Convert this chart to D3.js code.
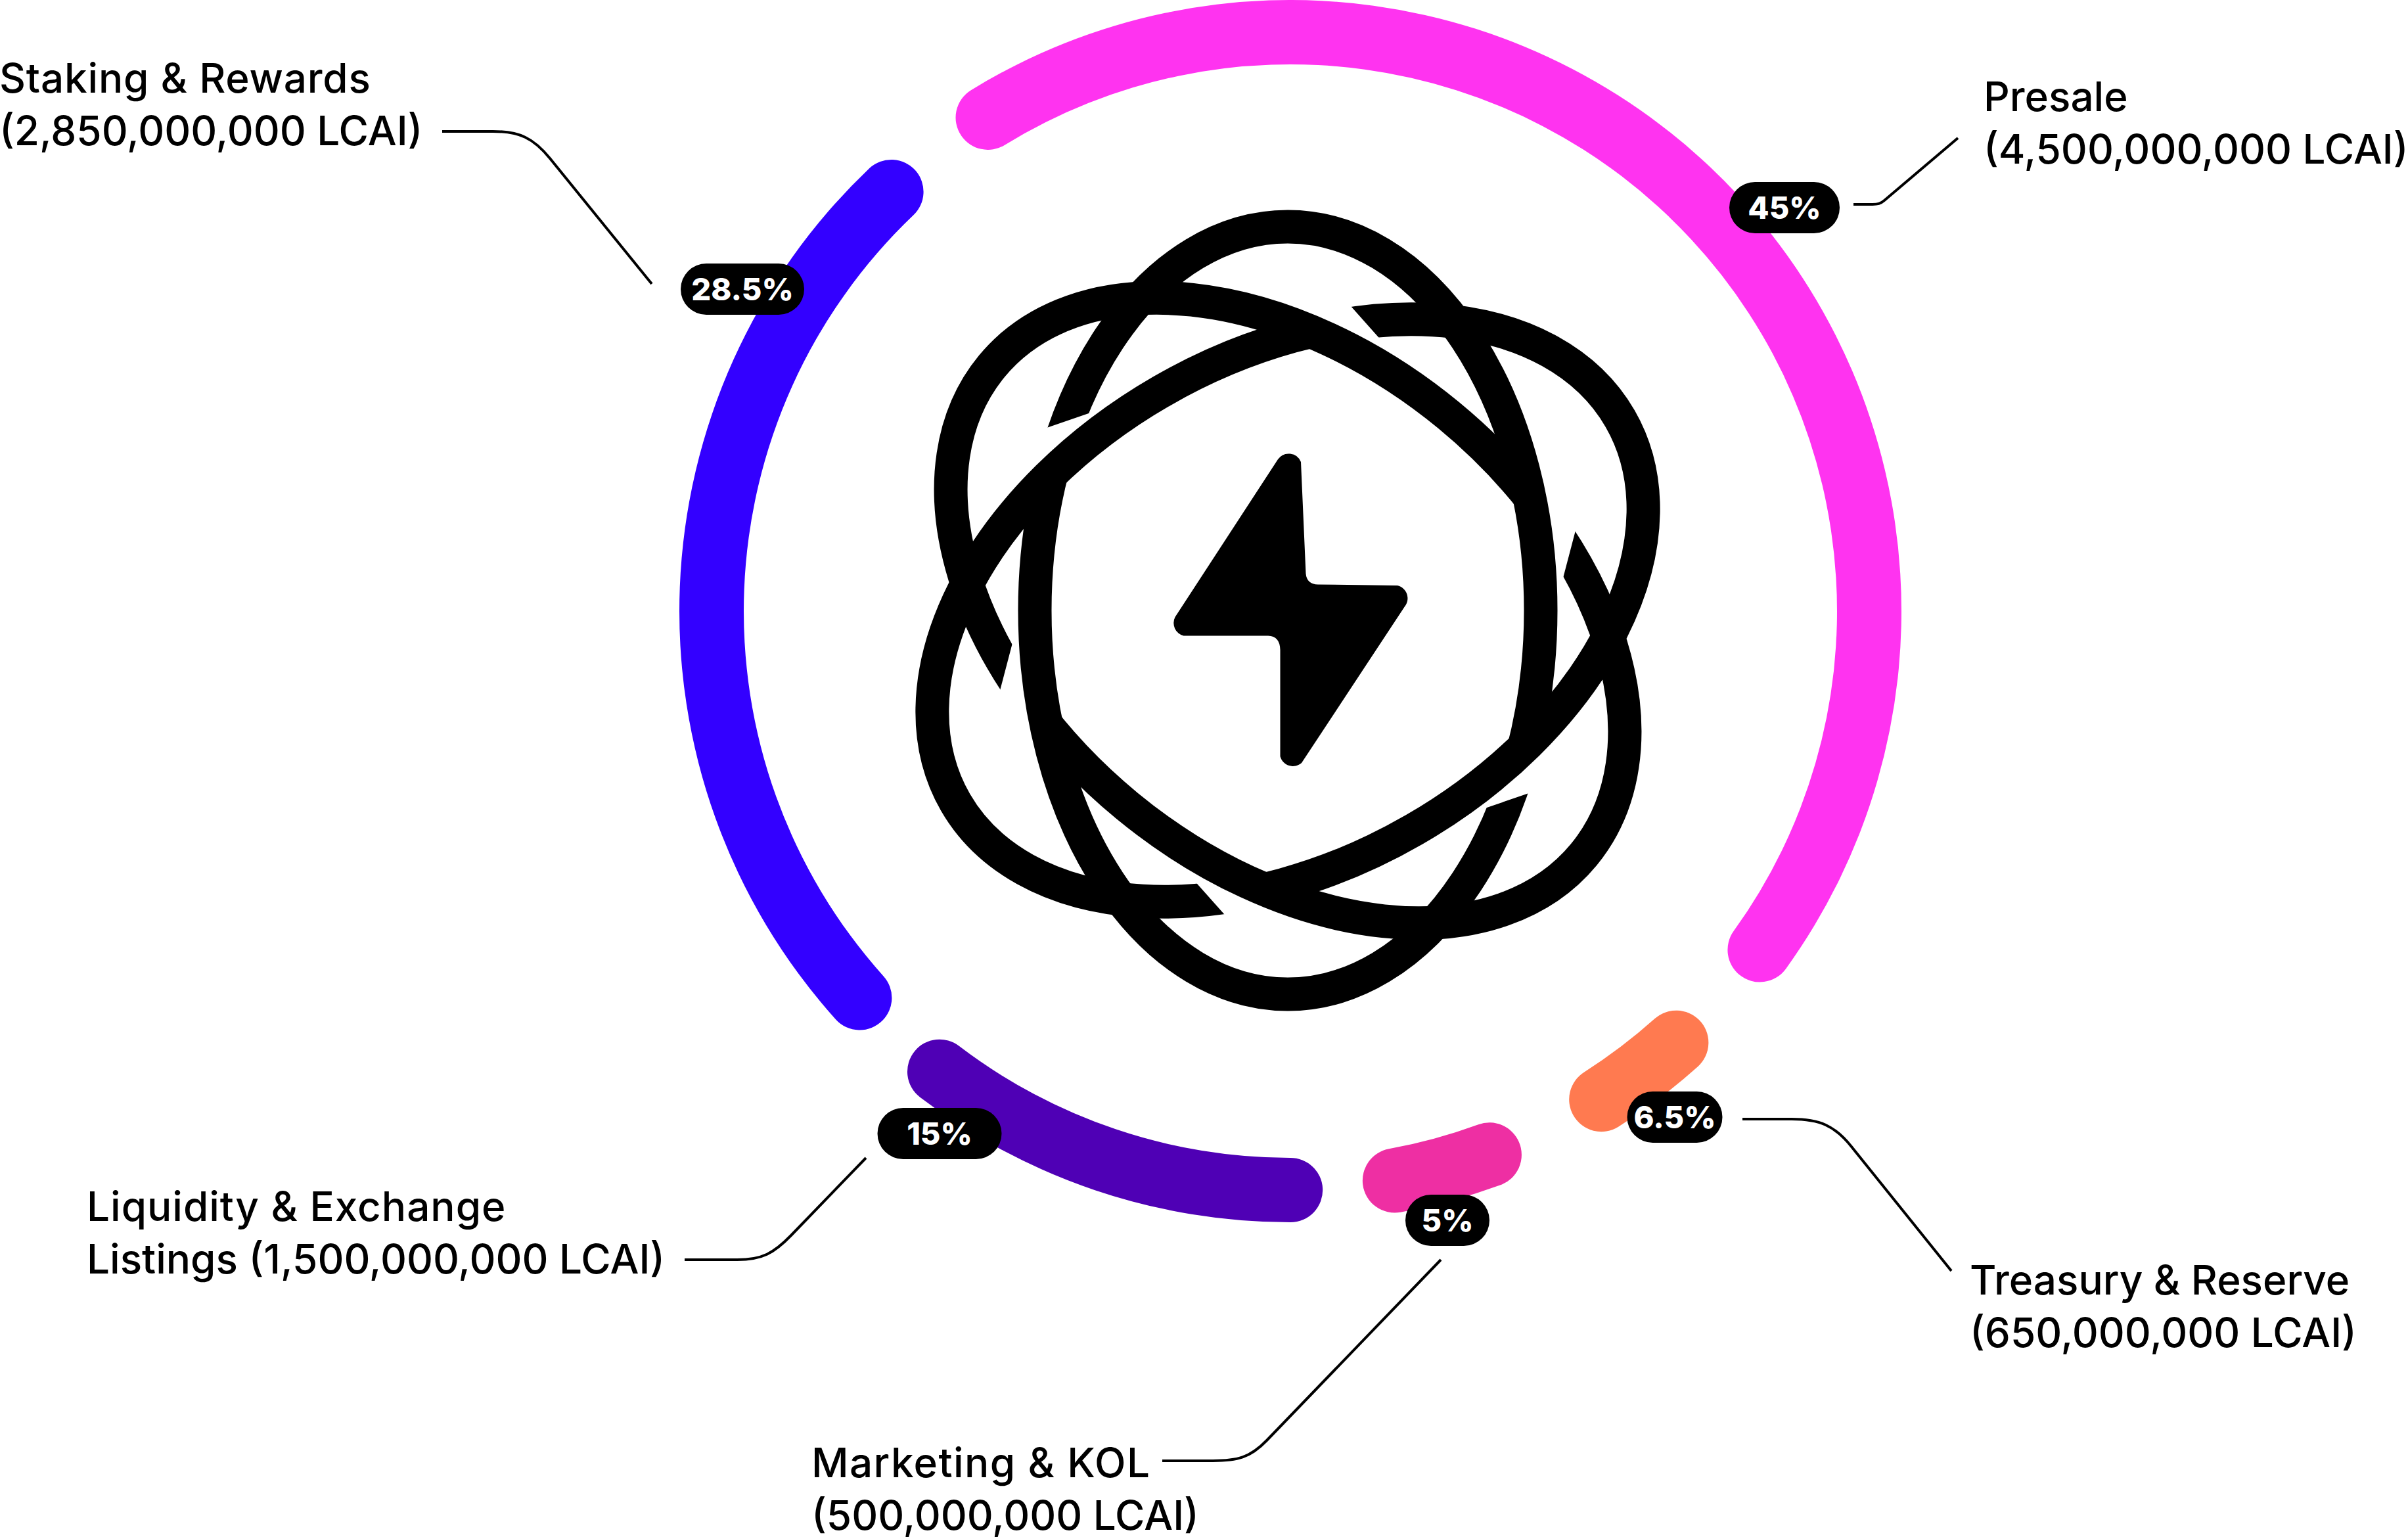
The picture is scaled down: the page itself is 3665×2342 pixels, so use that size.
<!DOCTYPE html>
<html><head><meta charset="utf-8">
<style>html,body{margin:0;padding:0;background:#fff}svg{display:block}</style>
<script src="https://cdn.jsdelivr.net/npm/d3@7"></script>
</head><body><svg id="c" width="3665" height="2342" viewBox="0 0 3665 2342"></svg>
<script>
// ---- chart values ----
const categories = ["Presale","Treasury & Reserve","Marketing & KOL","Liquidity & Exchange Listings","Staking & Rewards"];
const amounts = [4500000000,650000000,500000000,1500000000,2850000000];
const percentLabels = ["45%","6.5%","5%","15%","28.5%"];
// degrees of the ring given to each slice (drawn band + the gap after it)
const slotDegrees = [169.7,21.7,20.1,48.1,100.4];
// degrees left blank at the end of each slot
const gapDegrees = [6.0,6.0,4.0,4.4,5.7];
const colors = ["#FF33F0","#FF7A50","#EE2FA3","#4F00B5","#3300FF"];
const firstLines = ["Presale","Treasury & Reserve","Marketing & KOL","Liquidity & Exchange","Staking & Rewards"];
const secondPrefix = ["","","","Listings ",""];

// ---- layout ----
const ring={cx:1964,cy:930,r0:832,r1:930};
const labelPos=[{x:3019,y:169},{x:2998,y:1970},{x:1235,y:2248},{x:132,y:1858},{x:-1,y:141}];
const firstTracking=[0,0,1.4,1,0.8];
const pillPos=[{x:2716,y:316,w:168},{x:2549,y:1700,w:145},{x:2203,y:1857,w:128},{x:1430,y:1725,w:189},{x:1130,y:440,w:188}];
const leaders=[
 [[2821,311],[2850,311],[2868,305],[2980,210]],
 [[2652,1703],[2727,1703],[2818,1745],[2970,1934]],
 [[1769,2223],[1846,2223],[1928,2192],[2193,1917]],
 [[1042,1917],[1122,1917],[1204,1880],[1318,1762]],
 [[673,200],[750,200],[837,241],[992,432]]
];
const font="Inter, 'Noto Sans', sans-serif";
const svg=d3.select("#c");
const rad=d3.scaleLinear().domain([0,360]).range([0,2*Math.PI]);

// ring
const startDeg=-34.7;
const pie=d3.pie().sort(null).value(d=>d.slot).startAngle(rad(startDeg)).endAngle(rad(startDeg+360));
const rows=categories.map((c,i)=>({c,slot:slotDegrees[i],gap:gapDegrees[i],color:colors[i]}));
const arc=d3.arc().innerRadius(ring.r0).outerRadius(ring.r1).cornerRadius((ring.r1-ring.r0)/2);
svg.append("g").attr("transform",`translate(${ring.cx},${ring.cy})`)
  .selectAll("path").data(pie(rows)).join("path")
  .attr("d",d=>arc({startAngle:d.startAngle,endAngle:d.endAngle-rad(d.data.gap)}))
  .attr("fill",d=>d.data.color);

// logo: three crossing ellipses, each one cut where it passes under the next
const logo={cx:1960,cy:929,rx:385,ry:584,sw:51};
const orbits=[
 {rot:0,   wedge:[[-430,-256],[-364,-279],[-303,-300],[-240,-322],[-240,-230],[-430,-210]]},
 {rot:60,  wedge:[[70.4,-491.8],[154.6,-397.2],[124,-384],[32,-429.6],[1.5,-458.6]]},
 {rot:-50.5,wedge:[[454.6,-185],[411,-19],[384,-31.5],[365,-225]]}
];
const defs=svg.append("defs");
const lg=svg.append("g").attr("transform",`translate(${logo.cx},${logo.cy})`);
orbits.forEach((o,i)=>{
  const id="cut"+i, d=d3.line()(o.wedge)+"Z";
  const m=defs.append("mask").attr("id",id).attr("maskUnits","userSpaceOnUse")
    .attr("x",-800).attr("y",-800).attr("width",1600).attr("height",1600);
  m.append("rect").attr("x",-800).attr("y",-800).attr("width",1600).attr("height",1600).attr("fill","#fff");
  m.append("path").attr("d",d).attr("fill","#000");
  m.append("path").attr("d",d).attr("fill","#000").attr("transform","rotate(180)");
  lg.append("g").attr("mask",`url(#${id})`)
    .append("ellipse").attr("transform",`rotate(${o.rot})`).attr("rx",logo.rx).attr("ry",logo.ry)
    .attr("fill","none").attr("stroke","#000").attr("stroke-width",logo.sw);
});
svg.append("path").attr("fill","#000").attr("d",
 "M1945,699 A20,20 0 0 1 1980,703 L1987.5,873 Q1989,889 2006,889.5 L2127,891 A20,20 0 0 1 2138,923 L1981,1161 A20,20 0 0 1 1948.5,1151 L1948.5,989 Q1948,968 1930,967.5 L1801.5,967.5 A20,20 0 0 1 1788.5,939 Z");

// leaders
svg.append("g").selectAll("path").data(leaders).join("path").attr("fill","none").attr("stroke","#000").attr("stroke-width",4)
 .attr("d",p=>{
   const [a,b,c,e]=p, q=d3.path();
   const L=0.42*Math.hypot(c[0]-b[0],c[1]-b[1]), n=Math.hypot(e[0]-c[0],e[1]-c[1]);
   q.moveTo(...a);q.lineTo(...b);
   q.bezierCurveTo(b[0]+L,b[1],c[0]-(e[0]-c[0])/n*L,c[1]-(e[1]-c[1])/n*L,c[0],c[1]);
   q.lineTo(...e);return q.toString();});

// labels
const fmt=d3.format(",");
const lab=svg.append("g").attr("font-family",font).attr("font-size",62).attr("font-weight",500).attr("fill","#000");
categories.forEach((c,i)=>{
  lab.append("text").attr("x",labelPos[i].x).attr("y",labelPos[i].y).attr("letter-spacing",firstTracking[i]).text(firstLines[i]);
  lab.append("text").attr("x",labelPos[i].x).attr("y",labelPos[i].y+80).text(`${secondPrefix[i]}(${fmt(amounts[i])} LCAI)`);
});

// pills
const pills=svg.append("g").selectAll("g").data(percentLabels).join("g")
  .attr("transform",(d,i)=>`translate(${pillPos[i].x},${pillPos[i].y})`);
pills.append("rect").attr("x",(d,i)=>-pillPos[i].w/2).attr("y",-39).attr("width",(d,i)=>pillPos[i].w).attr("height",78).attr("rx",39).attr("fill","#000");
pills.append("text").attr("text-anchor","middle").attr("dy",17).attr("font-family",font).attr("font-weight",800).attr("font-size",47).attr("fill","#fff").text(d=>d);
</script></body></html>
